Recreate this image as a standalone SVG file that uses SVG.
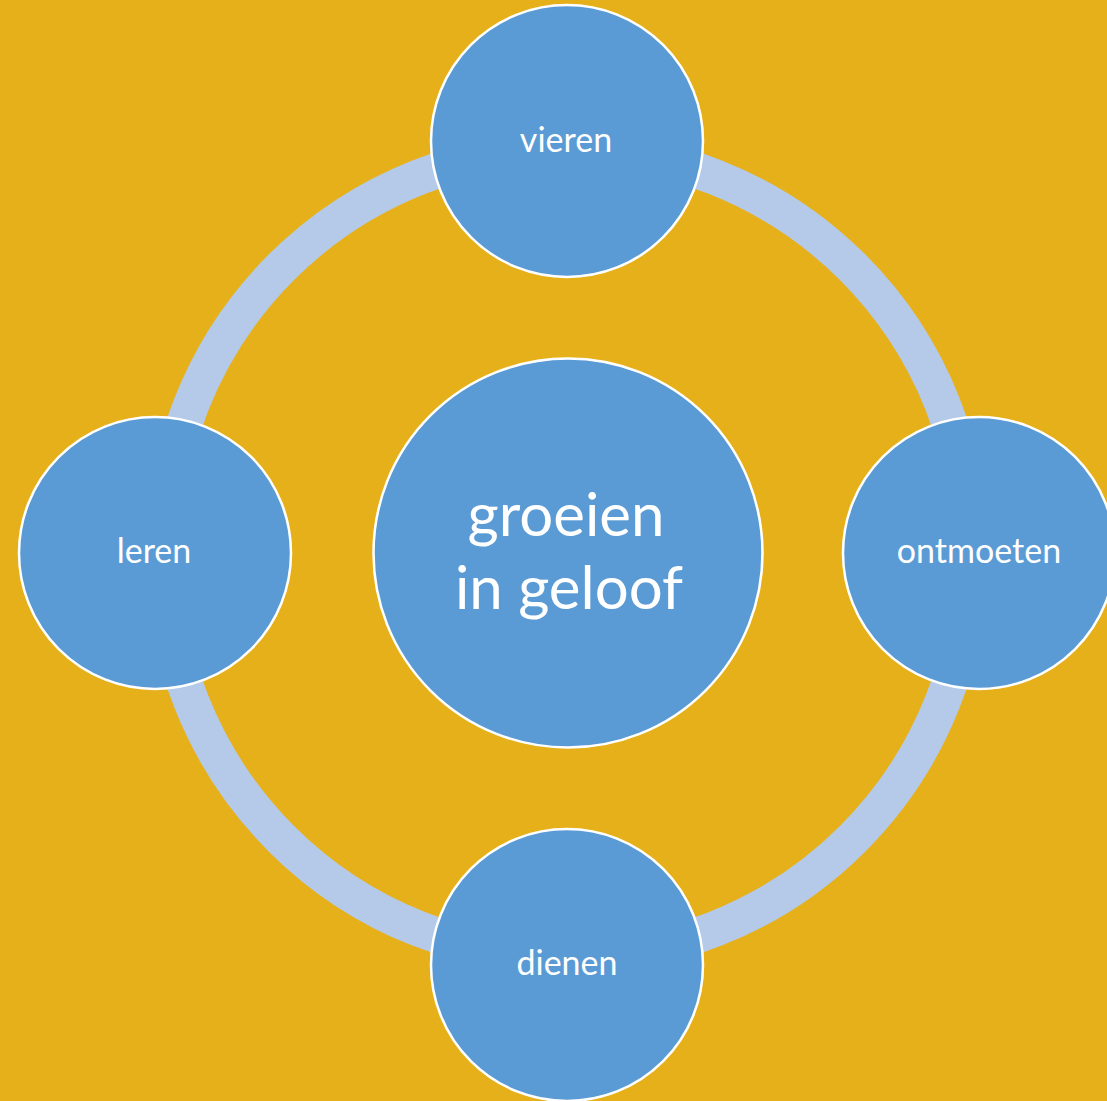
<svg xmlns="http://www.w3.org/2000/svg" width="1107" height="1101" viewBox="0 0 1107 1101">
<style>
.node{fill:#5B9BD5;stroke:#FFFFFF;stroke-width:2.5}
.lbl{fill:#FFFFFF;font-family:Lato,"Open Sans","Liberation Sans",sans-serif;text-anchor:middle}
.sm{font-size:34px}
.lg{font-size:60px}
</style>
<rect x="0" y="0" width="1107" height="1101" fill="#E6B01B"/>
<g id="connectors">
<circle cx="567" cy="553" r="404" fill="none" stroke="#B4CAE8" stroke-width="36"/>
</g>
<g id="node-center">
<circle class="node" cx="568" cy="553" r="194.5"/>
<text class="lbl lg"><tspan x="566" y="536">groeien</tspan><tspan x="569" y="609">in geloof</tspan></text>
</g>
<g id="node-vieren">
<circle class="node" cx="567" cy="141" r="136"/>
<text class="lbl sm" x="566" y="152">vieren</text>
</g>
<g id="node-ontmoeten">
<circle class="node" cx="979" cy="553" r="136"/>
<text class="lbl sm" x="979" y="563">ontmoeten</text>
</g>
<g id="node-dienen">
<circle class="node" cx="567" cy="965" r="136"/>
<text class="lbl sm" x="567" y="975">dienen</text>
</g>
<g id="node-leren">
<circle class="node" cx="155" cy="553" r="136"/>
<text class="lbl sm" x="154" y="563">leren</text>
</g>
</svg>
